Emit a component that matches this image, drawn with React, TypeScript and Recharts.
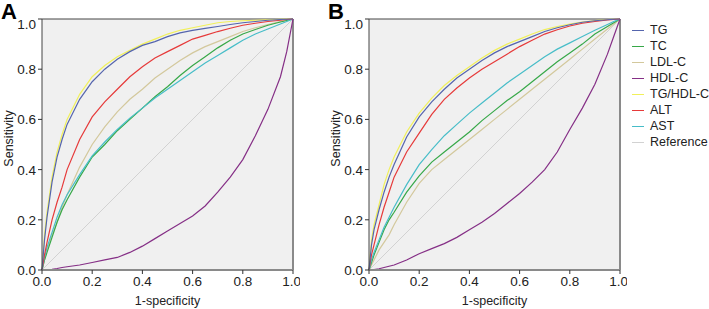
import { LineChart, Line, XAxis, YAxis, CartesianGrid, ReferenceLine, Label } from "recharts";

// shared false-positive-rate grid (1-specificity)
const FPR = [0, 0.01, 0.02, 0.04, 0.06, 0.08, 0.1, 0.15, 0.2, 0.25, 0.3, 0.35, 0.4, 0.45, 0.5, 0.55, 0.6, 0.65, 0.7, 0.75, 0.8, 0.85, 0.9, 0.95, 0.975, 1];
const TICKS = [0, 0.2, 0.4, 0.6, 0.8, 1];
const REF_X = [0, 1];
const REF_Y = [0, 1];

// panel A sensitivities
const A_TG = [0, 0.12, 0.21, 0.35, 0.45, 0.52, 0.58, 0.68, 0.75, 0.8, 0.84, 0.87, 0.895, 0.91, 0.93, 0.945, 0.955, 0.963, 0.97, 0.978, 0.985, 0.99, 0.995, 0.998, 0.999, 1];
const A_TC = [0, 0.04, 0.07, 0.13, 0.19, 0.24, 0.28, 0.37, 0.45, 0.5, 0.555, 0.6, 0.645, 0.69, 0.73, 0.775, 0.815, 0.85, 0.885, 0.915, 0.94, 0.958, 0.975, 0.988, 0.994, 1];
const A_LDL = [0, 0.04, 0.08, 0.14, 0.19, 0.25, 0.3, 0.41, 0.5, 0.57, 0.63, 0.68, 0.72, 0.765, 0.8, 0.835, 0.865, 0.89, 0.91, 0.93, 0.95, 0.965, 0.978, 0.99, 0.995, 1];
const A_HDL = [0, 0, 0.001, 0.003, 0.006, 0.01, 0.013, 0.02, 0.03, 0.04, 0.05, 0.07, 0.095, 0.125, 0.155, 0.185, 0.215, 0.255, 0.31, 0.37, 0.44, 0.535, 0.64, 0.77, 0.87, 1];
const A_RATIO = [0, 0.14, 0.23, 0.37, 0.47, 0.54, 0.6, 0.7, 0.77, 0.815, 0.85, 0.875, 0.9, 0.92, 0.94, 0.955, 0.965, 0.975, 0.985, 0.99, 0.993, 0.995, 0.997, 0.999, 1, 1];
const A_ALT = [0, 0.06, 0.11, 0.2, 0.27, 0.33, 0.4, 0.52, 0.61, 0.67, 0.72, 0.77, 0.81, 0.845, 0.87, 0.895, 0.92, 0.935, 0.95, 0.963, 0.975, 0.983, 0.99, 0.995, 0.998, 1];
const A_AST = [0, 0.05, 0.09, 0.15, 0.21, 0.26, 0.3, 0.38, 0.455, 0.51, 0.56, 0.605, 0.645, 0.685, 0.72, 0.755, 0.79, 0.825, 0.855, 0.885, 0.915, 0.94, 0.96, 0.98, 0.99, 1];

// panel B sensitivities
const B_TG = [0, 0.1, 0.16, 0.24, 0.31, 0.37, 0.42, 0.53, 0.61, 0.67, 0.72, 0.765, 0.8, 0.835, 0.865, 0.89, 0.91, 0.93, 0.95, 0.965, 0.977, 0.987, 0.993, 0.997, 0.999, 1];
const B_TC = [0, 0.03, 0.06, 0.11, 0.16, 0.2, 0.23, 0.31, 0.375, 0.43, 0.47, 0.51, 0.55, 0.595, 0.635, 0.675, 0.71, 0.75, 0.79, 0.83, 0.865, 0.9, 0.94, 0.97, 0.985, 1];
const B_LDL = [0, 0.02, 0.04, 0.08, 0.11, 0.14, 0.18, 0.27, 0.345, 0.4, 0.44, 0.48, 0.52, 0.56, 0.6, 0.64, 0.68, 0.72, 0.76, 0.8, 0.84, 0.88, 0.92, 0.96, 0.98, 1];
const B_HDL = [0, 0.001, 0.002, 0.005, 0.01, 0.015, 0.02, 0.04, 0.065, 0.085, 0.105, 0.13, 0.16, 0.19, 0.225, 0.265, 0.305, 0.35, 0.4, 0.47, 0.56, 0.645, 0.74, 0.86, 0.93, 1];
const B_RATIO = [0, 0.12, 0.18, 0.26, 0.34, 0.4, 0.45, 0.55, 0.625, 0.685, 0.735, 0.775, 0.81, 0.845, 0.875, 0.9, 0.92, 0.94, 0.958, 0.97, 0.98, 0.988, 0.994, 0.998, 0.999, 1];
const B_ALT = [0, 0.06, 0.1, 0.18, 0.25, 0.31, 0.37, 0.47, 0.545, 0.62, 0.68, 0.725, 0.765, 0.8, 0.83, 0.86, 0.89, 0.915, 0.94, 0.957, 0.972, 0.983, 0.99, 0.996, 0.998, 1];
const B_AST = [0, 0.04, 0.07, 0.12, 0.17, 0.21, 0.25, 0.34, 0.42, 0.48, 0.535, 0.58, 0.625, 0.665, 0.705, 0.745, 0.78, 0.815, 0.85, 0.88, 0.905, 0.93, 0.955, 0.978, 0.99, 1];

const SERIES = [
  { key: "tg", name: "TG", color: "#5565ad" },
  { key: "tc", name: "TC", color: "#37a848" },
  { key: "ldl", name: "LDL-C", color: "#d3c89c" },
  { key: "hdl", name: "HDL-C", color: "#852f86" },
  { key: "ratio", name: "TG/HDL-C", color: "#f1f05a" },
  { key: "alt", name: "ALT", color: "#e63a3a" },
  { key: "ast", name: "AST", color: "#47bdc8" },
];
const REF_COLOR = "#d2d2d2";
// draw order: yellow underneath the others
const DRAW_ORDER = ["ratio", "ldl", "tc", "ast", "hdl", "alt", "tg"];

const font = "'Liberation Sans', Arial, sans-serif";

const buildRows = (cols: Record<string, number[]>) =>
  FPR.map((x, i) => {
    const row: Record<string, number> = { x };
    Object.keys(cols).forEach((k) => (row[k] = cols[k][i]));
    return row;
  });

const rowsA = buildRows({ tg: A_TG, tc: A_TC, ldl: A_LDL, hdl: A_HDL, ratio: A_RATIO, alt: A_ALT, ast: A_AST });
const rowsB = buildRows({ tg: B_TG, tc: B_TC, ldl: B_LDL, hdl: B_HDL, ratio: B_RATIO, alt: B_ALT, ast: B_AST });
const refRows = REF_X.map((x, i) => ({ x, ref: REF_Y[i] }));

const fmt = (v: number) => v.toFixed(1);

const YTick = (props: any) => {
  const { x, y, payload } = props;
  const shift = payload.value === 1 ? 5 : 0;
  return (
    <text x={x} y={y + shift} dy={5} textAnchor="end" fontSize={13.5} fill="#222" fontFamily={font}>
      {fmt(payload.value)}
    </text>
  );
};

function Panel({ rows, letter, left }: { rows: any[]; letter: string; left: number }) {
  return (
    <div style={{ position: "absolute", left, top: 0 }}>
      <LineChart width={300} height={309} data={rows} margin={{ top: 19, right: 7, bottom: 1, left: 0 }}>
        <CartesianGrid fill="#f0f0f0" horizontal={false} vertical={false} />
        <XAxis
          dataKey="x"
          type="number"
          domain={[0, 1]}
          ticks={TICKS}
          tickFormatter={fmt}
          height={38}
          tickSize={4}
          tick={{ fontSize: 13.5, fill: "#222", fontFamily: font }}
          axisLine={{ stroke: "#8a8a8a", strokeWidth: 2 }}
          tickLine={{ stroke: "#333" }}
        >
          <Label value="1-specificity" position="insideBottom" offset={3} style={{ fontSize: 12.5, fill: "#222", fontFamily: font }} />
        </XAxis>
        <YAxis
          type="number"
          domain={[0, 1]}
          ticks={TICKS}
          width={42}
          tickSize={4}
          tick={<YTick />}
          axisLine={{ stroke: "#444" }}
          tickLine={{ stroke: "#333" }}
        >
          <Label
            value="Sensitivity"
            angle={-90}
            position="insideLeft"
            offset={9}
            dy={-6}
            style={{ fontSize: 12.5, fill: "#222", fontFamily: font, textAnchor: "middle" }}
          />
        </YAxis>
        <ReferenceLine y={1} stroke="#444" strokeWidth={1} />
        <ReferenceLine x={1} stroke="#8a8a8a" strokeWidth={2} />
        <Line data={refRows} dataKey="ref" stroke={REF_COLOR} strokeWidth={1} dot={false} isAnimationActive={false} />
        {DRAW_ORDER.map((k) => {
          const s = SERIES.find((q) => q.key === k)!;
          return (
            <Line
              key={k}
              dataKey={k}
              stroke={s.color}
              strokeWidth={1.2}
              dot={false}
              type="linear"
              isAnimationActive={false}
            />
          );
        })}
      </LineChart>
      <div
        style={{
          position: "absolute",
          left: 1,
          top: 0,
          lineHeight: "24px",
          fontFamily: font,
          fontWeight: 700,
          fontSize: 22,
          color: "#000",
        }}
      >
        {letter}
      </div>
    </div>
  );
}

function LegendBox() {
  const items = [...SERIES.map((s) => ({ name: s.name, color: s.color })), { name: "Reference", color: REF_COLOR }];
  return (
    <div style={{ position: "absolute", left: 632, top: 22, fontFamily: font, fontSize: 12.5, color: "#222", whiteSpace: "nowrap" }}>
      {items.map((it) => (
        <div key={it.name} style={{ display: "flex", alignItems: "center", height: 16 }}>
          <span style={{ display: "inline-block", width: 12, height: 0, borderTop: `1.5px solid ${it.color}`, marginRight: 6 }} />
          <span>{it.name}</span>
        </div>
      ))}
    </div>
  );
}

export default function App() {
  return (
    <div style={{ position: "absolute", left: 0, top: 0, width: 709, height: 309, background: "#fff", overflow: "hidden" }}>
      <Panel rows={rowsA} letter="A" left={0} />
      <Panel rows={rowsB} letter="B" left={327} />
      <LegendBox />
    </div>
  );
}
